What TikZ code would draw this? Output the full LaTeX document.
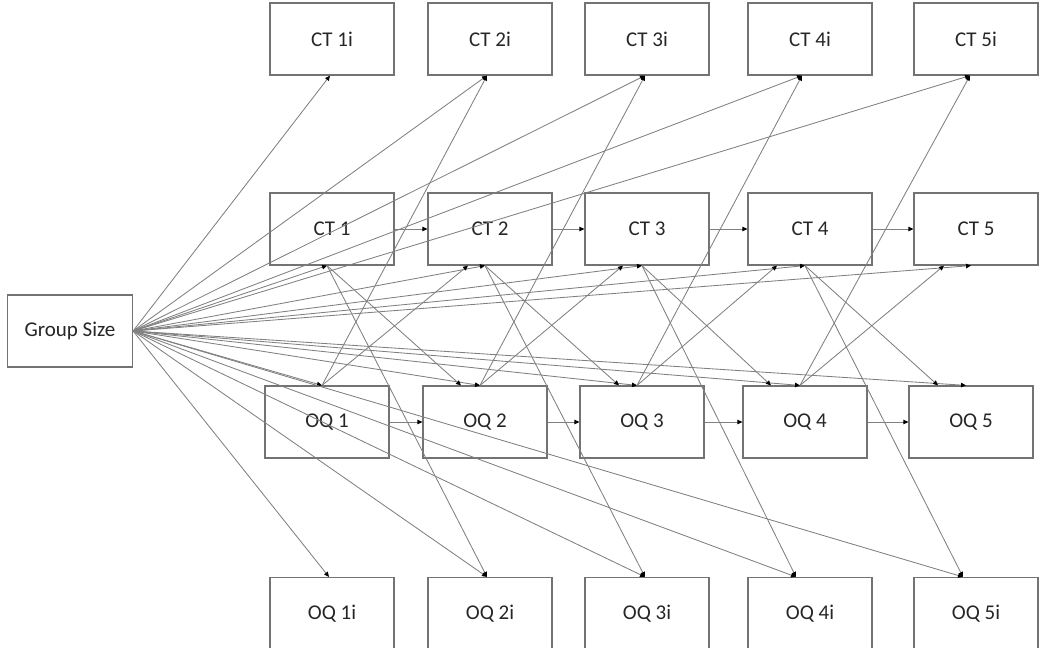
\documentclass[tikz,border=0pt]{standalone}
\usepackage{fontspec}
\setmainfont{Carlito}
\usetikzlibrary{arrows.meta}

\begin{document}
\begin{tikzpicture}[x=1pt, y=-1pt,
    box/.style={draw=black!55, line width=1.2pt, minimum width=124pt, minimum height=72pt,
      inner sep=0pt, text=black!85, font=\fontsize{21}{25}\selectfont},
    link/.style={draw=black!50, line width=0.85pt,
      -{Triangle[length=5pt, width=4.5pt, color=black]}}]
    \useasboundingbox (0,0) rectangle (1050,648);
    \node[box, minimum width=125pt] (gs) at (70, 331) {Group Size};
    \node[box] (ct1i) at (332, 39) {CT 1i};
    \node[box] (ct2i) at (490, 39) {CT 2i};
    \node[box] (ct3i) at (647, 39) {CT 3i};
    \node[box] (ct4i) at (810, 39) {CT 4i};
    \node[box] (ct5i) at (976, 39) {CT 5i};
    \node[box] (ct1) at (332, 229) {CT 1};
    \node[box] (ct2) at (490, 229) {CT 2};
    \node[box] (ct3) at (647, 229) {CT 3};
    \node[box] (ct4) at (810, 229) {CT 4};
    \node[box] (ct5) at (976, 229) {CT 5};
    \node[box] (oq1) at (327, 422) {OQ 1};
    \node[box] (oq2) at (485, 422) {OQ 2};
    \node[box] (oq3) at (642, 422) {OQ 3};
    \node[box] (oq4) at (805, 422) {OQ 4};
    \node[box] (oq5) at (971, 422) {OQ 5};
    \node[box] (oq1i) at (332, 613.5) {OQ 1i};
    \node[box] (oq2i) at (490, 613.5) {OQ 2i};
    \node[box] (oq3i) at (647, 613.5) {OQ 3i};
    \node[box] (oq4i) at (810, 613.5) {OQ 4i};
    \node[box] (oq5i) at (976, 613.5) {OQ 5i};
    % group size paths
    \draw [link] (gs.east) to ([xshift=-2pt]ct1i.south);
    \draw [link] (gs.east) to ([xshift=-3pt]ct2i.south);
    \draw [link] (gs.east) to ([xshift=-2pt]ct3i.south);
    \draw [link] (gs.east) to ([xshift=-8pt]ct4i.south);
    \draw [link] (gs.east) to ([xshift=-6pt]ct5i.south);
    \draw [link] (gs.east) to ([xshift=-5pt]ct1.south);
    \draw [link] (gs.east) to ([xshift=-5pt]ct2.south);
    \draw [link] (gs.east) to ([xshift=-5pt]ct3.south);
    \draw [link] (gs.east) to ([xshift=-5pt]ct4.south);
    \draw [link] (gs.east) to ([xshift=-5pt]ct5.south);
    \draw [link] (gs.east) to ([xshift=-5pt]oq1.north);
    \draw [link] (gs.east) to ([xshift=-5pt]oq2.north);
    \draw [link] (gs.east) to ([xshift=-5pt]oq3.north);
    \draw [link] (gs.east) to ([xshift=-5pt]oq4.north);
    \draw [link] (gs.east) to ([xshift=-5pt]oq5.north);
    \draw [link] (gs.east) to ([xshift=-3pt]oq1i.north);
    \draw [link] (gs.east) to ([xshift=-3pt]oq2i.north);
    \draw [link] (gs.east) to ([xshift=-2pt]oq3i.north);
    \draw [link] (gs.east) to ([xshift=-14pt]oq4i.north);
    \draw [link] (gs.east) to ([xshift=-13pt]oq5i.north);
    % autoregressive paths
    \draw [link] (ct1) to (ct2);
    \draw [link] (ct2) to (ct3);
    \draw [link] (ct3) to (ct4);
    \draw [link] (ct4) to (ct5);
    \draw [link] (oq1) to (oq2);
    \draw [link] (oq2) to (oq3);
    \draw [link] (oq3) to (oq4);
    \draw [link] (oq4) to (oq5);
    % cross-lagged paths
    \draw [link] ([xshift=-5pt]ct1.south) to ([xshift=-24pt]oq2.north);
    \draw [link] ([xshift=-5pt]ct2.south) to ([xshift=-23pt]oq3.north);
    \draw [link] ([xshift=-5pt]ct3.south) to ([xshift=-34pt]oq4.north);
    \draw [link] ([xshift=-5pt]ct4.south) to ([xshift=-33pt]oq5.north);
    \draw [link] ([xshift=-5pt]oq1.north) to ([xshift=-22pt]ct2.south);
    \draw [link] ([xshift=-5pt]oq2.north) to ([xshift=-24pt]ct3.south);
    \draw [link] ([xshift=-5pt]oq3.north) to ([xshift=-33pt]ct4.south);
    \draw [link] ([xshift=-5pt]oq4.north) to ([xshift=-32pt]ct5.south);
    % paths to the i boxes
    \draw [link] ([xshift=-5pt]oq1.north) to ([xshift=-3pt]ct2i.south);
    \draw [link] ([xshift=-5pt]oq2.north) to ([xshift=-2pt]ct3i.south);
    \draw [link] ([xshift=-5pt]oq3.north) to ([xshift=-8pt]ct4i.south);
    \draw [link] ([xshift=-5pt]oq4.north) to ([xshift=-6pt]ct5i.south);
    \draw [link] ([xshift=-5pt]ct1.south) to ([xshift=-3pt]oq2i.north);
    \draw [link] ([xshift=-5pt]ct2.south) to ([xshift=-2pt]oq3i.north);
    \draw [link] ([xshift=-5pt]ct3.south) to ([xshift=-14pt]oq4i.north);
    \draw [link] ([xshift=-5pt]ct4.south) to ([xshift=-13pt]oq5i.north);
\end{tikzpicture}
\end{document}
